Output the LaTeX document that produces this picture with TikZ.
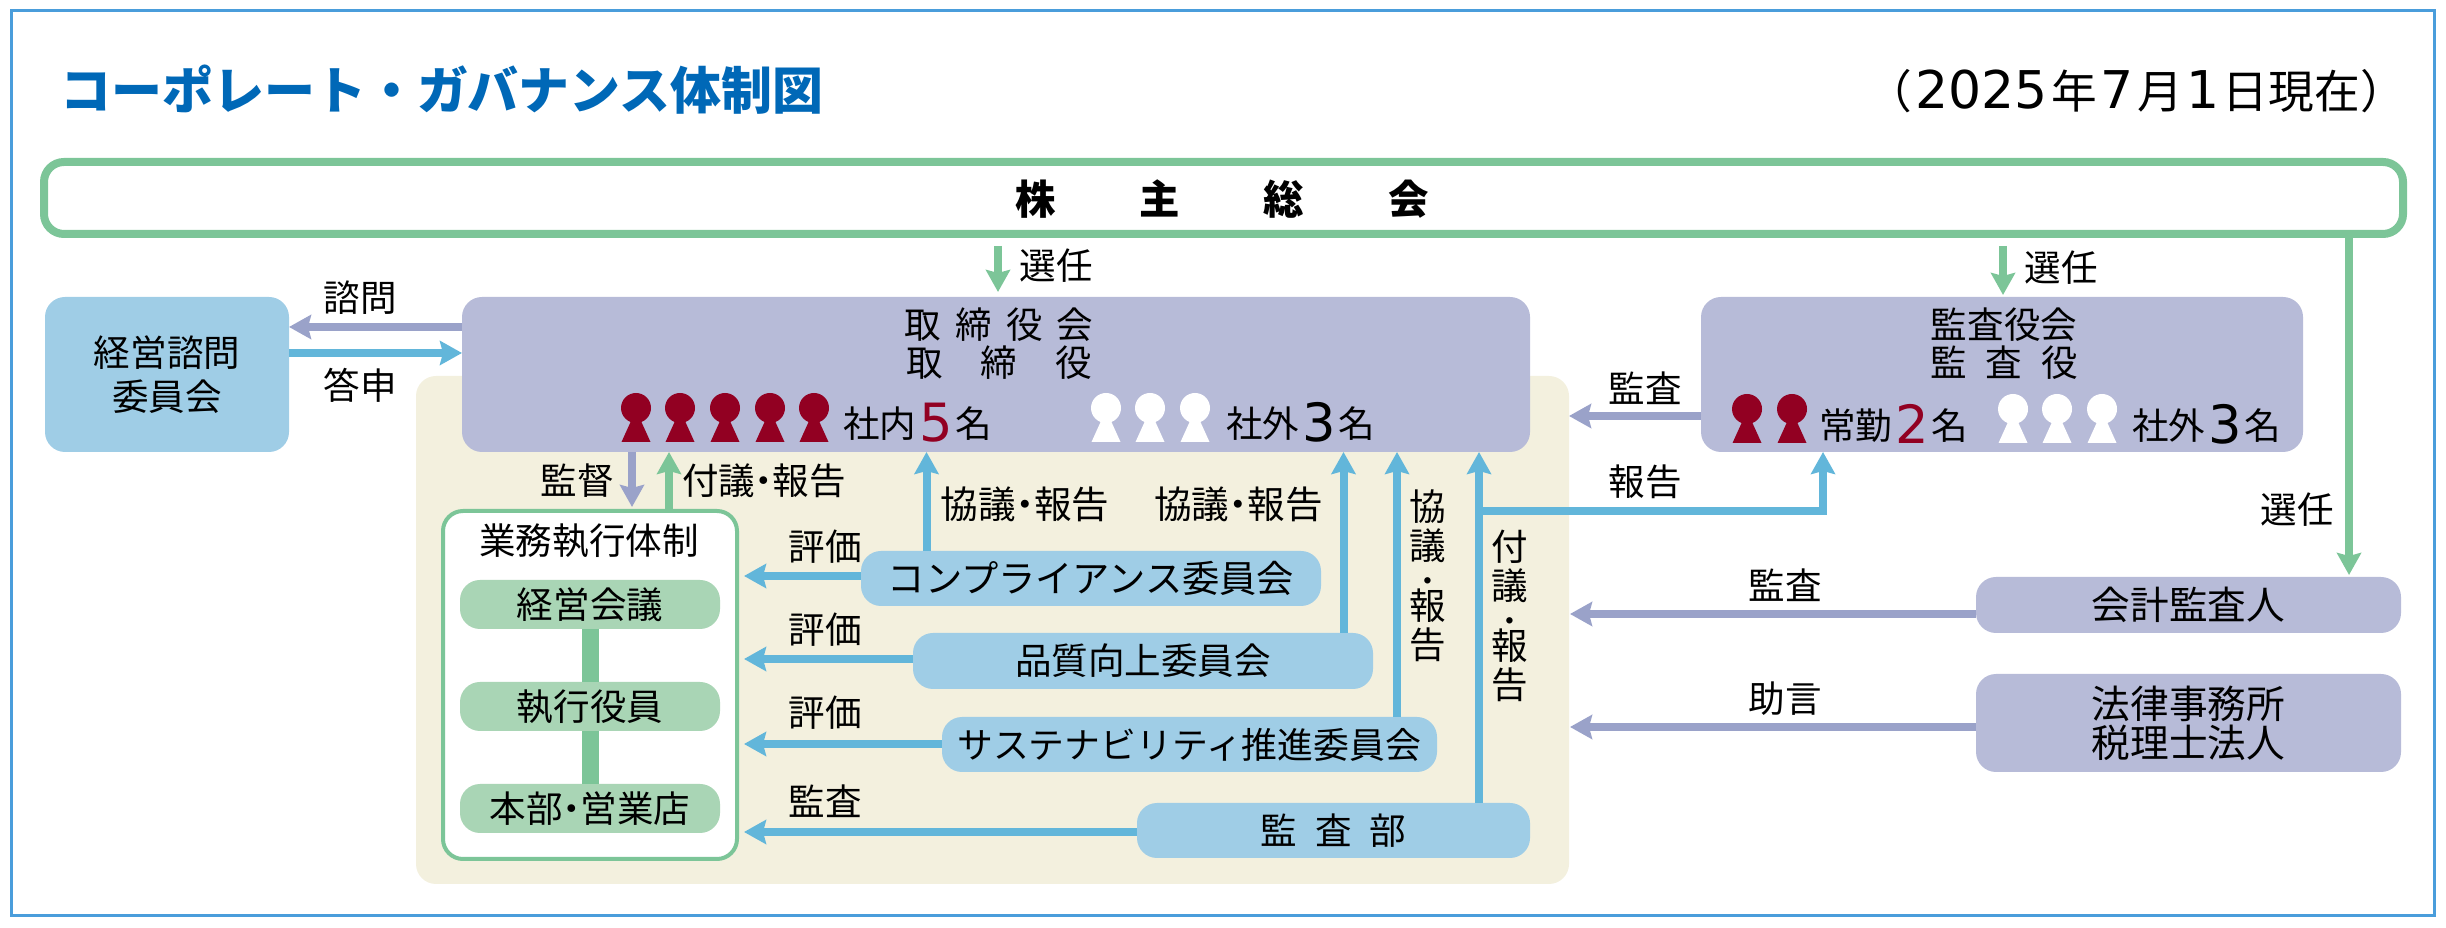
\documentclass[tikz,border=0pt]{standalone}
\usepackage{fontspec}
\setmainfont{Noto Sans CJK JP}
\newfontfamily\digfont{DejaVu Sans}
\usetikzlibrary{arrows.meta}

\definecolor{framebl}{RGB}{74,157,219}
\definecolor{titlebl}{RGB}{0,104,183}
\definecolor{greenln}{RGB}{124,197,152}
\definecolor{greenbx}{RGB}{169,213,181}
\definecolor{bluebx}{RGB}{159,205,230}
\definecolor{blueln}{RGB}{98,182,218}
\definecolor{purplebx}{RGB}{183,187,216}
\definecolor{purpleln}{RGB}{154,162,201}
\definecolor{beige}{RGB}{243,240,222}
\definecolor{darkred}{RGB}{146,0,34}

\def\bodyfont{\fontsize{10.4}{11.1}\selectfont}
\def\bignum#1{\hspace{0.03cm}\raisebox{-0.04cm}{\digfont\fontsize{15}{15}\selectfont #1}\hspace{0.03cm}}
\def\datenum#1{\hspace{0.035cm}{\digfont\fontsize{14.8}{15}\selectfont #1}\hspace{0.035cm}}
\def\ndot{\hspace{-.95mm}・\hspace{-.95mm}}
\def\sdot{{\fontsize{6.5}{6.5}\selectfont\bfseries ・}}
\def\person[#1](#2,#3){\fill[#1] (#2,#3) circle (0.15); \fill[#1] (#2,#3-0.02) -- (#2+0.145,#3-0.34) -- (#2-0.145,#3-0.34) -- cycle;}

\tikzset{
	box/.style={rounded corners=0.2cm, inner sep=0pt, outer sep=0pt, align=center},
	bluebox/.style={box, fill=bluebx},
	purplebox/.style={box, fill=purplebx},
	greenbox/.style={box, fill=greenbx, minimum width=2.6cm, minimum height=0.49cm},
	arr/.style={line width=0.08cm, -{Stealth[length=0.22cm, width=0.24cm, inset=0.03cm]}},
	blarr/.style={arr, color=blueln},
	puarr/.style={arr, color=purpleln},
	grarr/.style={arr, color=greenln},
}

\begin{document}
\begin{tikzpicture}[every node/.style={inner sep=0pt, outer sep=0pt, font=\bodyfont}]
			%%%%% START %%%%%
			\useasboundingbox (0, 0) rectangle (24.46, -9.28);
			
			\draw[line width=0.03cm, color=framebl] (0.11, -0.11) rectangle (24.34, -9.16);
			\fill[beige, rounded corners=0.2cm] (4.16, -3.76) rectangle (15.69, -8.84);
			
			\node[font=\fontsize{14.5}{15}\selectfont\bfseries, text=titlebl] (title) at (4.42, -0.90) {コーポレート・ガバナンス体制図};
			\node[font=\fontsize{13}{14}\selectfont] (date) at (21.36, -0.91) {（\datenum{2025}年\datenum{7}月\datenum{1}日現在）};
			
			\node[box, draw=greenln, line width=0.08cm, minimum width=23.59cm, minimum height=0.72cm] (soukai) at (12.235, -1.98) {};
			\node[font=\fontsize{11.5}{12}\selectfont\bfseries] (soukaitx) at (12.22, -1.99) {株\hspace{0.84cm}主\hspace{0.84cm}総\hspace{0.84cm}会};
			
			\node[bluebox, minimum width=2.44cm, minimum height=1.55cm] (adv) at (1.67, -3.745) {経営諮問\\[1.4pt]委員会};
			\node[purplebox, minimum width=10.68cm, minimum height=1.55cm] (board) at (9.96, -3.745) {};
			\node[purplebox, minimum width=6.02cm, minimum height=1.55cm] (aud) at (20.02, -3.745) {};
			
			\node[align=center] (boardtx) at (9.99, -3.44) {取\hspace{0.14cm}締\hspace{0.14cm}役\hspace{0.14cm}会\\[-0.2pt]取\hspace{0.38cm}締\hspace{0.38cm}役};
			\node[align=center] (audtx) at (20.04, -3.44) {監査役会\\[-0.2pt]監\hspace{0.19cm}査\hspace{0.19cm}役};
			
			\person[darkred](6.36,-4.08)
			\person[darkred](6.80,-4.08)
			\person[darkred](7.25,-4.08)
			\person[darkred](7.70,-4.08)
			\person[darkred](8.14,-4.08)
			\person[white](11.06,-4.08)
			\person[white](11.50,-4.08)
			\person[white](11.95,-4.08)
			\person[darkred](17.47,-4.09)
			\person[darkred](17.92,-4.09)
			\person[white](20.13,-4.09)
			\person[white](20.57,-4.09)
			\person[white](21.02,-4.09)
			
			\node[anchor=base west] (inner) at (8.43, -4.38) {社内\textcolor{darkred}{\bignum{5}}名};
			\node[anchor=base west] (outer) at (12.26, -4.38) {社外\bignum{3}名};
			\node[anchor=base west] (joukin) at (18.19, -4.40) {常勤\textcolor{darkred}{\bignum{2}}名};
			\node[anchor=base west] (outerb) at (21.32, -4.40) {社外\bignum{3}名};
			
			\node[box, draw=greenln, line width=0.04cm, fill=white, minimum width=2.94cm, minimum height=3.48cm] (exec) at (5.90, -6.85) {};
			\node (exectx) at (5.89, -5.41) {業務執行体制};
			\node[greenbox] (keiei) at (5.90, -6.045) {経営会議};
			\node[greenbox] (shikko) at (5.90, -7.065) {執行役員};
			\node[greenbox] (honbu) at (5.90, -8.085) {本部\ndot 営業店};
			\draw[line width=0.17cm, color=greenln] (keiei) -- (shikko);
			\draw[line width=0.17cm, color=greenln] (shikko) -- (honbu);
			
			\node[bluebox, minimum width=4.60cm, minimum height=0.55cm, font=\fontsize{10.6}{11}\selectfont] (comp) at (10.91, -5.785) {コンプライアンス委員会};
			\node[bluebox, minimum width=4.60cm, minimum height=0.56cm] (qual) at (11.43, -6.61) {品質向上委員会};
			\node[bluebox, minimum width=4.95cm, minimum height=0.55cm, font=\fontsize{10.2}{11}\selectfont] (sust) at (11.895, -7.445) {サステナビリティ推進委員会};
			\node[bluebox, minimum width=3.93cm, minimum height=0.55cm] (kansa) at (13.335, -8.305) {監\hspace{0.18cm}査\hspace{0.18cm}部};
			
			\node[purplebox, minimum width=4.25cm, minimum height=0.56cm, font=\fontsize{11}{11.1}\selectfont] (kaikei) at (21.885, -6.05) {会計監査人};
			\node[purplebox, minimum width=4.25cm, minimum height=0.98cm, font=\fontsize{11}{11.1}\selectfont] (houritsu) at (21.885, -7.23) {法律事務所\\税理士法人};
			
			\coordinate (sna) at (9.98, -2.46);
			\coordinate (snb) at (9.98, -2.92);
			\coordinate (sca) at (20.03, -2.46);
			\coordinate (scb) at (20.03, -2.95);
			\coordinate (kk) at (23.49, -5.75);
			\coordinate (qa) at (2.89, -3.27);
			\coordinate (qb) at (4.62, -3.53);
			\coordinate (ga) at (15.69, -4.16);
			\coordinate (gb) at (15.70, -6.14);
			\coordinate (gc) at (15.70, -7.27);
			\coordinate (kt) at (6.32, -5.07);
			\coordinate (fy) at (6.69, -4.52);
			\coordinate (ta) at (7.44, -5.76);
			\coordinate (tb) at (7.44, -6.59);
			\coordinate (tc) at (7.44, -7.44);
			\coordinate (td) at (7.44, -8.32);
			\coordinate (ua) at (9.265, -4.52);
			\coordinate (ub) at (13.435, -4.52);
			\coordinate (uc) at (13.97, -4.52);
			\coordinate (ud) at (14.79, -4.52);
			\coordinate (brj) at (14.79, -5.11);
			\coordinate (tr) at (18.23, -4.52);
			
			\draw[grarr] (sna) -- (snb);
			\draw[grarr] (sca) -- (scb);
			\draw[grarr] (kk |- soukai.south) -- (kk);
			\draw[puarr] (qa -| board.west) -- (qa);
			\draw[blarr] (qb -| adv.east) -- (qb);
			\draw[puarr] (ga -| aud.west) -- (ga);
			\draw[puarr] (gb -| kaikei.west) -- (gb);
			\draw[puarr] (gc -| houritsu.west) -- (gc);
			\draw[puarr] (kt |- board.south) -- (kt);
			\draw[grarr] (fy |- exec.north) -- (fy);
			\draw[blarr] (ta -| comp.west) -- (ta);
			\draw[blarr] (tb -| qual.west) -- (tb);
			\draw[blarr] (tc -| sust.west) -- (tc);
			\draw[blarr] (td -| kansa.west) -- (td);
			\draw[blarr] (ua |- comp.north) -- (ua);
			\draw[blarr] (ub |- qual.north) -- (ub);
			\draw[blarr] (uc |- sust.north) -- (uc);
			\draw[blarr] (ud |- kansa.north) -- (ud);
			\draw[blarr] (brj) -- (brj -| tr) -- (tr);
			
			\node (lsna) at (10.56, -2.66) {選任};
			\node (lsnb) at (20.61, -2.68) {選任};
			\node (lsnc) at (22.97, -5.10) {選任};
			\node (lqa) at (3.60, -2.98) {諮問};
			\node (lqb) at (3.60, -3.85) {答申};
			\node (lga) at (16.45, -3.88) {監査};
			\node (lhk) at (16.45, -4.82) {報告};
			\node (lgb) at (17.85, -5.85) {監査};
			\node (lgc) at (17.85, -6.99) {助言};
			\node (lkt) at (5.77, -4.81) {監督};
			\node (lfy) at (7.64, -4.81) {付議\ndot 報告};
			\node (lta) at (8.25, -5.47) {評価};
			\node (ltb) at (8.25, -6.30) {評価};
			\node (ltc) at (8.25, -7.13) {評価};
			\node (ltd) at (8.25, -8.01) {監査};
			\node[font=\fontsize{10.7}{11}\selectfont] (lka) at (10.25, -5.04) {協議\ndot 報告};
			\node[font=\fontsize{10.7}{11}\selectfont] (lkb) at (12.385, -5.04) {協議\ndot 報告};
			\node[align=center] (lkc) at (14.28, -5.76) {協\\議\\[-2.5pt]\sdot\\[-2.5pt]報\\告};
			\node[align=center] (lfz) at (15.10, -6.16) {付\\議\\[-2.5pt]\sdot\\[-2.5pt]報\\告};
			
			%%%%% END %%%%%
		\end{tikzpicture}
\end{document}
